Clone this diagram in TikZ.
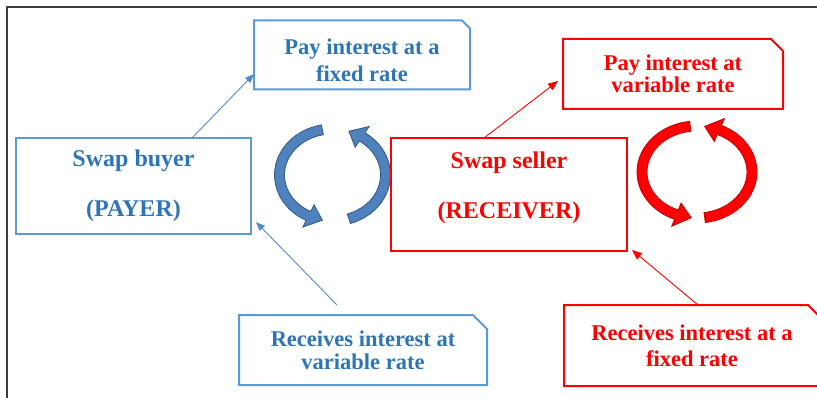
\documentclass[tikz,border=0pt]{standalone}
\usepackage{fontspec}
\setmainfont{Liberation Serif}
\usetikzlibrary{calc,arrows.meta}
\definecolor{bluetxt}{RGB}{46,117,182}
\definecolor{blueline}{RGB}{91,155,213}
\definecolor{blueconn}{RGB}{80,140,200}
\definecolor{bluearr}{RGB}{79,129,189}
\definecolor{bluearrdk}{RGB}{50,88,135}
\definecolor{redarrdk}{RGB}{195,0,0}
\definecolor{framec}{RGB}{60,60,60}
% #1 center, #2 rx, #3 ry, #4 tail angle, #5 head base angle, #6 tip angle, #7 style
\newcommand{\ringarrow}[7]{%
  \filldraw[#7] ($(#1)+(#4:{#2+5} and {#3+5})$)
    arc[start angle=#4, end angle=#5, x radius=#2+5, y radius=#3+5]
    -- ($(#1)+(#5:{#2+12.5} and {#3+12.5})$)
    -- ($(#1)+(#6:#2 and #3)$)
    -- ($(#1)+(#5:{#2-12.5} and {#3-12.5})$)
    -- ($(#1)+(#5:{#2-5} and {#3-5})$)
    arc[start angle=#5, end angle=#4, x radius=#2-5, y radius=#3-5]
    -- cycle;}
% snipped-corner outline around a node: #1 name, #2 snip size, #3 style
\newcommand{\snipout}[3]{%
  \draw[#3] (#1.south west) -- (#1.north west) -- ([xshift=-#2]#1.north east)
    -- ([yshift=-#2]#1.north east) -- (#1.south east) -- cycle;}
\begin{document}
\begin{tikzpicture}[x=1pt,y=-1pt,
  box/.style={rectangle, inner sep=0pt, outer sep=0pt, align=center,
    font=\bfseries\fontsize{22.5}{25}\selectfont},
  bigbox/.style={box, fill=white, line width=2pt,
    font=\bfseries\fontsize{24}{50}\selectfont},
  bluebox/.style={text=bluetxt},
  redbox/.style={text=red},
  blueedge/.style={draw=blueline, line width=2pt},
  rededge/.style={draw=red, line width=2pt},
  blueconnector/.style={draw=blueconn, line width=0.9pt, -{Triangle[length=9pt,width=7pt]}},
  redconnector/.style={draw=red, line width=0.9pt, -{Triangle[length=10pt,width=8pt]}},
  bluering/.style={fill=bluearr, draw=bluearrdk, line width=0.8pt},
  redring/.style={fill=red, draw=redarrdk, line width=0.8pt},
  ]
\useasboundingbox (0,0) rectangle (817,398);
\clip (0,0) rectangle (817,398);
\fill[white] (0,0) rectangle (817,398);
% frame
\draw[framec, line width=1.5pt] (7,398) -- (7,7) -- (817,7);

% circular arrows
\ringarrow{332.5,175}{53}{46}{-101}{-243}{-259}{bluering}
\ringarrow{332.5,175}{53}{46}{72}{-56}{-72}{bluering}
\ringarrow{697,172}{55}{46}{-97}{-248}{-264}{redring}
\ringarrow{697,172}{55}{46}{82}{-66}{-82}{redring}

% main boxes
\node[bigbox, bluebox, draw=blueline, minimum width=235pt, minimum height=96pt]
  (buyer) at (133.5,186) {Swap buyer\\(PAYER)};
\node[bigbox, redbox, draw=red, minimum width=236pt, minimum height=113pt]
  (seller) at (509,194.5)
  {\raisebox{5pt}[0pt][0pt]{\begin{tabular}{@{}c@{}}Swap seller\\(RECEIVER)\end{tabular}}};

% snipped boxes
\node[box, bluebox, minimum width=216pt, minimum height=69pt, font=\bfseries\fontsize{22.5}{27}\selectfont]
  (fixA) at (362,55) {\raisebox{-12.5pt}[0pt][0pt]{\begin{tabular}{@{}c@{}}Pay interest at a\\fixed rate\end{tabular}}};
\snipout{fixA}{8pt}{blueedge}
\node[box, redbox, minimum width=220pt, minimum height=70pt, font=\bfseries\fontsize{22.5}{22}\selectfont]
  (varA) at (673,74) {Pay interest at\\variable rate};
\snipout{varA}{12pt}{rededge}
\node[box, bluebox, minimum width=248pt, minimum height=70pt, font=\bfseries\fontsize{22.5}{23}\selectfont]
  (recvVar) at (363,350) {Receives interest at\\variable rate};
\snipout{recvVar}{14pt}{blueedge}
\node[box, redbox, minimum width=256pt, minimum height=81pt, font=\bfseries\fontsize{22.5}{26}\selectfont]
  (recvFix) at (692,345.5) {Receives interest at a\\fixed rate};
\snipout{recvFix}{12pt}{rededge}

% connectors
\draw[blueconnector] ([xshift=58.5pt]buyer.north) -- ([yshift=-19pt]fixA.west);
\draw[blueconnector] ([xshift=-26pt,yshift=10pt]recvVar.north) -- ([xshift=5pt,yshift=12pt]buyer.south east);
\draw[redconnector] ([xshift=-25pt]seller.north) -- ([xshift=-5pt,yshift=-7pt]varA.west);
\draw[redconnector] ([xshift=6pt]recvFix.north) -- ([xshift=5pt,yshift=1pt]seller.south east);
\end{tikzpicture}
\end{document}
